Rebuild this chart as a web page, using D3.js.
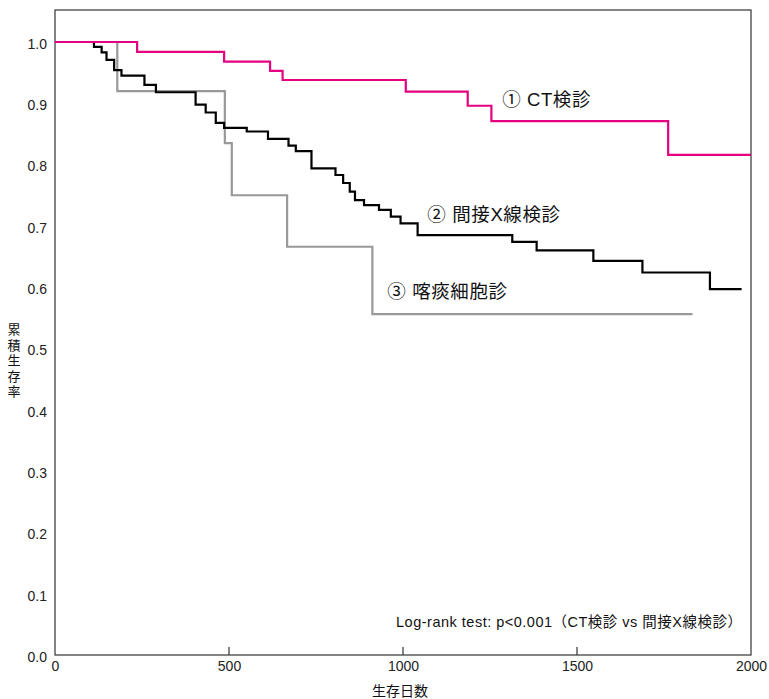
<!DOCTYPE html>
<html><head><meta charset="utf-8">
<script src="https://cdn.jsdelivr.net/npm/d3@7"></script>
<style>body{margin:0;background:#fff}svg{display:block}</style>
</head><body>
<svg id="c" width="769" height="699"></svg>
<script>
// Data (days, cumulative survival)
const ctDays   = [0, 236, 486, 618, 654, 1008, 1186, 1254, 1762, 2000];
const ctSurv   = [1, 0.984, 0.968, 0.953, 0.938, 0.919, 0.896, 0.871, 0.816, 0.816];
const xrayDays = [0,112,134,148,170,191,257,290,404,433,462,486,551,612,671,692,737,806,828,847,862,888,931,965,993,1042,1314,1384,1547,1688,1882,1973];
const xraySurv = [1,0.992,0.983,0.971,0.954,0.945,0.930,0.918,0.898,0.885,0.868,0.860,0.854,0.842,0.831,0.822,0.794,0.783,0.770,0.756,0.742,0.734,0.726,0.715,0.704,0.685,0.674,0.660,0.643,0.624,0.597,0.597];
const sputDays = [0, 179, 488, 508, 667, 912, 1832];
const sputSurv = [1, 0.920, 0.835, 0.750, 0.666, 0.556, 0.556];
const seriesNames = ["① CT検診", "② 間接X線検診", "③ 喀痰細胞診"];
const yTicks = [0,0.1,0.2,0.3,0.4,0.5,0.6,0.7,0.8,0.9,1.0];
const xTicks = [0,500,1000,1500,2000];
const yTitle = "累積生存率";
const xTitle = "生存日数";
const note = "Log-rank test: p<0.001（CT検診 vs 間接X線検診）";

const svg = d3.select("#c");
const L = 55, R = 751, T = 10, B = 655;
const x = d3.scaleLinear().domain([0,2000]).range([L,R]);
const y = d3.scaleLinear().domain([0,1]).range([B,B-613]);
const font = "'Liberation Sans', Arial, sans-serif";
const jfont = "'Liberation Sans', 'Noto Sans CJK JP', sans-serif";

// frame
svg.append("rect").attr("x",L).attr("y",T).attr("width",R-L).attr("height",B-T)
  .attr("fill","none").attr("stroke","#333").attr("stroke-width",1.2);

// x ticks inward
const xAxis = d3.axisBottom(x).tickValues(xTicks).tickSize(0).tickPadding(6).tickFormat(d3.format("d"));
const gx = svg.append("g").attr("transform",`translate(0,${B})`).call(xAxis);
gx.select(".domain").remove();
gx.selectAll("text").attr("font-family",font).attr("font-size",14).attr("fill","#222");
svg.append("g").selectAll("line").data(xTicks.filter(d=>d>0&&d<2000)).join("line")
  .attr("x1",d=>x(d)).attr("x2",d=>x(d)).attr("y1",B).attr("y2",B-8)
  .attr("stroke","#333").attr("stroke-width",1.2);

// y ticks labels
const yAxis = d3.axisLeft(y).tickValues(yTicks).tickSize(0).tickPadding(8).tickFormat(d3.format(".1f"));
const gy = svg.append("g").attr("transform",`translate(${L},0)`).call(yAxis);
gy.select(".domain").remove();
gy.selectAll("text").attr("font-family",font).attr("font-size",14).attr("fill","#222").attr("dy","0.45em");

// curves
const line = d3.line().x(d=>x(d[0])).y(d=>y(d[1])).curve(d3.curveStepAfter);
const mk = (ds,ss)=>ds.map((d,i)=>[d,ss[i]]);
svg.append("path").datum(mk(sputDays,sputSurv)).attr("d",line)
  .attr("fill","none").attr("stroke","#999").attr("stroke-width",2.2);
svg.append("path").datum(mk(xrayDays,xraySurv)).attr("d",line)
  .attr("fill","none").attr("stroke","#000").attr("stroke-width",2.2);
svg.append("path").datum(mk(ctDays,ctSurv)).attr("d",line)
  .attr("fill","none").attr("stroke","#e4007f").attr("stroke-width",2.2);

// series labels
const lab = [[1285,0.895],[1070,0.708],[955,0.582]];
svg.selectAll("text.lab").data(seriesNames).join("text").attr("class","lab")
  .attr("x",(d,i)=>x(lab[i][0])).attr("y",(d,i)=>y(lab[i][1]))
  .attr("font-family",jfont).attr("font-size",18.5).attr("letter-spacing",0.6)
  .attr("fill","#111").text(d=>d);

// note
svg.append("text").attr("x",396).attr("y",627).attr("font-family",jfont)
  .attr("font-size",14.5).attr("textLength",346).attr("lengthAdjust","spacing")
  .attr("fill","#111").text(note);

// axis titles
svg.append("text").attr("x",400).attr("y",696).attr("text-anchor","middle")
  .attr("font-family",jfont).attr("font-size",14).attr("fill","#111").text(xTitle);
svg.append("g").selectAll("text").data(Array.from(yTitle)).join("text")
  .attr("x",14).attr("y",(d,i)=>334+i*15.5).attr("text-anchor","middle")
  .attr("font-family",jfont).attr("font-size",13).attr("fill","#111").text(d=>d);
</script>
</body></html>
